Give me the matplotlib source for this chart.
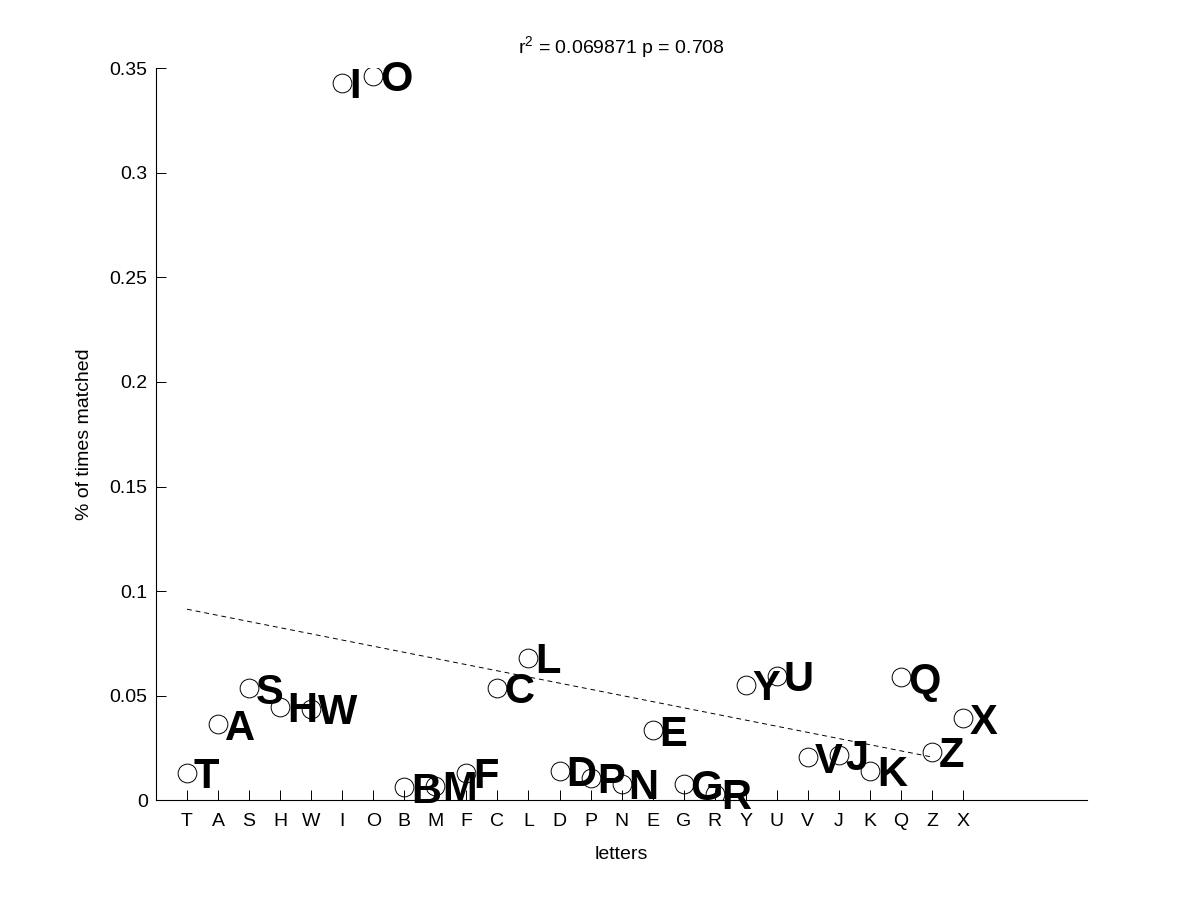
"""Letter match rate scatter with labelled points and a linear trend."""
import matplotlib
import matplotlib.pyplot as plt
import numpy as np

matplotlib.use("Agg")

letters = ["T", "A", "S", "H", "W", "I", "O", "B", "M", "F", "C", "L", "D",
           "P", "N", "E", "G", "R", "Y", "U", "V", "J", "K", "Q", "Z", "X"]
matched = [0.0129, 0.0362, 0.0534, 0.0446, 0.0435, 0.3432, 0.3463, 0.0061,
           0.0067, 0.0131, 0.0537, 0.0682, 0.0139, 0.0108, 0.0077, 0.0333,
           0.0075, 0.0029, 0.0550, 0.0593, 0.0204, 0.0218, 0.0139, 0.0587,
           0.0230, 0.0391]
trend_x = [1, 25]
trend_y = [0.0913, 0.0206]
title = r"r$^{2}$ = 0.069871 p = 0.708"

plt.rcParams["font.family"] = ["Liberation Sans", "DejaVu Sans"]
plt.rcParams["mathtext.default"] = "regular"

x = np.arange(1, len(letters) + 1)

fig = plt.figure(figsize=(12, 9), dpi=100)
ax = fig.add_axes([0.13, 0.111, 0.776, 0.813])

ax.plot(trend_x, trend_y, color="black", linestyle=(0, (5, 4)), linewidth=0.7)
ax.plot(x, matched, linestyle="none", marker="o", markersize=13.5,
        markerfacecolor="none", markeredgecolor="black", markeredgewidth=0.7)

for xi, yi, name in zip(x, matched, letters):
    ax.annotate(name, (xi, yi), xytext=(5, -11), textcoords="offset points",
                fontsize=30, fontweight="bold", ha="left", va="baseline")

ax.set_xlim(0, 30)
ax.set_ylim(0, 0.35)
ax.set_xticks(x)
ax.set_xticklabels(letters)
ax.set_yticks([0, 0.05, 0.1, 0.15, 0.2, 0.25, 0.3, 0.35])
ax.set_yticklabels(["0", "0.05", "0.1", "0.15", "0.2", "0.25", "0.3", "0.35"])
ax.tick_params(direction="in", length=7, width=0.7, labelsize=14)
ax.tick_params(axis="x", pad=9.5)
ax.tick_params(axis="y", pad=6)
ax.spines["top"].set_visible(False)
ax.spines["right"].set_visible(False)
for side in ("left", "bottom"):
    ax.spines[side].set_linewidth(0.8)

ax.set_xlabel("letters", fontsize=14, labelpad=11)
ax.set_ylabel("% of times matched", fontsize=14, labelpad=12)
ax.set_title(title, fontsize=14, pad=11)

fig.savefig("out.png", dpi=100, facecolor="white")
